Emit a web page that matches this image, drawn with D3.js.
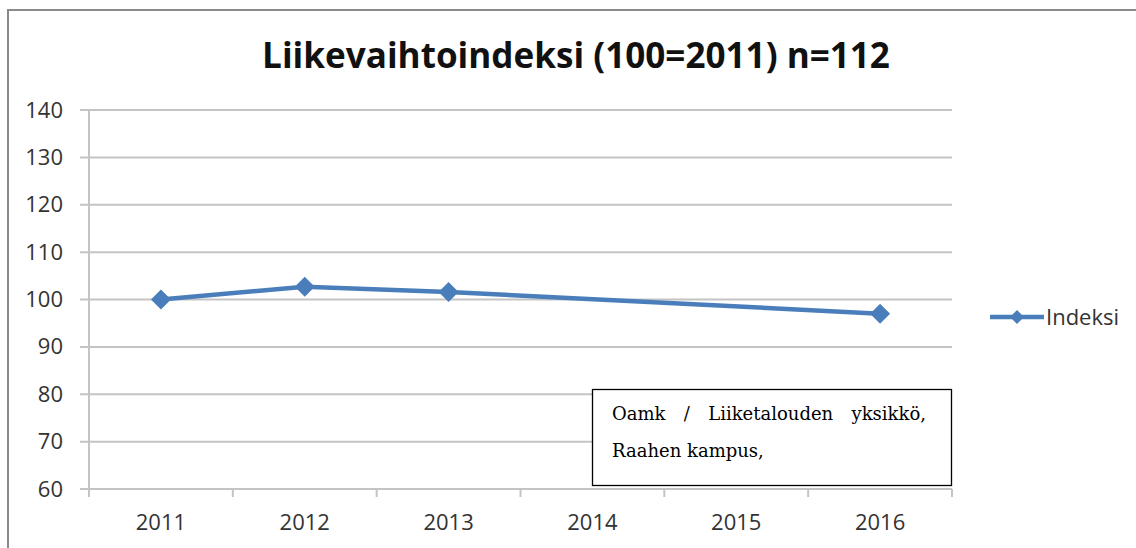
<!DOCTYPE html>
<html>
<head>
<meta charset="utf-8">
<script src="https://cdn.jsdelivr.net/npm/d3@7"></script>
<style>
  body { margin: 0; background: #fff; }
  svg { display: block; }
</style>
</head>
<body>
<div id="canvas"></div>
<script>
// chart data
var years = ['2011', '2012', '2013', '2014', '2015', '2016'];
var indeksi = [100, 102.7, 101.6, null, null, 97];
var yTicks = [60, 70, 80, 90, 100, 110, 120, 130, 140];
var title = 'Liikevaihtoindeksi (100=2011) n=112';
var seriesName = 'Indeksi';
var noteLines = ['Oamk / Liiketalouden yksikkö,', 'Raahen kampus,'];

var W = 1136, H = 548;
var m = {t: 110, l: 89, r: 184, b: 59};
var blue = '#4a7ebb';
var labelFont = '"Open Sans", sans-serif';

var svg = d3.select('#canvas').append('svg')
    .attr('width', W)
    .attr('height', H);

// outer chart frame (only top + left visible in the crop)
svg.append('path')
    .attr('d', 'M8,' + H + 'V10H' + W)
    .attr('fill', 'none')
    .attr('stroke', '#8a8a8a')
    .attr('stroke-width', 2);

// title, fitted to the width seen in the picture
var t = svg.append('text')
    .attr('x', 576)
    .attr('y', 68)
    .attr('text-anchor', 'middle')
    .style('font-family', labelFont)
    .style('font-weight', 'bold')
    .style('font-size', '30px')
    .attr('fill', '#111')
    .text(title);
var tw = t.node().getComputedTextLength();
t.style('font-size', (30 * 628 / tw) + 'px');

var x = d3.scaleBand()
    .domain(years)
    .range([m.l, W - m.r]);

var y = d3.scaleLinear()
    .domain([60, 140])
    .range([H - m.b, m.t]);

// gridlines
svg.append('g')
    .selectAll('line')
    .data(yTicks)
    .enter()
    .append('line')
    .attr('x1', m.l - 9)
    .attr('x2', W - m.r)
    .attr('y1', function(d){ return y(d); })
    .attr('y2', function(d){ return y(d); })
    .attr('stroke', '#c4c4c4')
    .attr('stroke-width', 2);

// y axis
var axisY = d3.axisLeft(y)
    .tickValues(yTicks)
    .tickSize(0)
    .tickPadding(26);
var gy = svg.append('g')
    .attr('transform', 'translate(' + m.l + ',0)')
    .call(axisY);
gy.select('.domain').remove();
gy.selectAll('text')
    .style('font-family', labelFont)
    .style('font-size', '22px')
    .attr('fill', '#333');
svg.append('line')
    .attr('x1', m.l).attr('x2', m.l)
    .attr('y1', y(140)).attr('y2', y(60) + 8)
    .attr('stroke', '#c4c4c4')
    .attr('stroke-width', 2);

// x axis: ticks sit between categories
var gx = svg.append('g')
    .attr('transform', 'translate(0,' + y(60) + ')');
gx.selectAll('line')
    .data(years.concat(['end']))
    .enter()
    .append('line')
    .attr('x1', function(d, i){ return m.l + i * x.step(); })
    .attr('x2', function(d, i){ return m.l + i * x.step(); })
    .attr('y1', 0)
    .attr('y2', 8)
    .attr('stroke', '#c4c4c4')
    .attr('stroke-width', 2);
gx.selectAll('text')
    .data(years)
    .enter()
    .append('text')
    .attr('x', function(d){ return x(d) + x.bandwidth() / 2; })
    .attr('y', 41)
    .attr('text-anchor', 'middle')
    .style('font-family', labelFont)
    .style('font-size', '22px')
    .attr('fill', '#333')
    .text(function(d){ return d; });

// the series (missing years are bridged, as in the original)
var pts = years.map(function(d, i){ return {year: d, value: indeksi[i]}; })
    .filter(function(d){ return d.value != null; });

var line = d3.line()
    .x(function(d){ return x(d.year) + x.bandwidth() / 2; })
    .y(function(d){ return y(d.value); });

svg.append('path')
    .datum(pts)
    .attr('d', line)
    .attr('fill', 'none')
    .attr('stroke', blue)
    .attr('stroke-width', 4.5)
    .attr('stroke-linejoin', 'round');

function diamond(r){ return 'M0,' + (-r) + 'L' + r + ',0L0,' + r + 'L' + (-r) + ',0Z'; }

svg.append('g')
    .selectAll('path')
    .data(pts)
    .enter()
    .append('path')
    .attr('transform', function(d){
        return 'translate(' + (x(d.year) + x.bandwidth() / 2) + ',' + y(d.value) + ')';
    })
    .attr('d', diamond(10))
    .attr('fill', blue);

// legend
var lg = svg.append('g').attr('transform', 'translate(990,317)');
lg.append('line')
    .attr('x1', 0).attr('x2', 54)
    .attr('stroke', blue)
    .attr('stroke-width', 4.5);
lg.append('path')
    .attr('transform', 'translate(27,0)')
    .attr('d', diamond(7))
    .attr('fill', blue);
lg.append('text')
    .attr('x', 56)
    .attr('y', 8)
    .style('font-family', labelFont)
    .style('font-size', '22px')
    .attr('fill', '#333')
    .text(seriesName);

// note box
var box = svg.append('g');
box.append('rect')
    .attr('x', 592.5)
    .attr('y', 389.5)
    .attr('width', 359)
    .attr('height', 96)
    .attr('fill', '#fff')
    .attr('stroke', '#000')
    .attr('stroke-width', 1.3);

var noteFont = {family: '"DejaVu Serif", serif', size: 18};
// first line is justified between the box paddings
var words = noteLines[0].split(' ');
var left = 612, right = 926;
var ws = words.map(function(w){
    var n = box.append('text')
        .style('font-family', noteFont.family)
        .style('font-size', noteFont.size + 'px')
        .attr('fill', '#000')
        .attr('y', 420)
        .text(w);
    return {node: n, w: n.node().getComputedTextLength()};
});
var total = d3.sum(ws, function(d){ return d.w; });
var gap = (right - left - total) / (ws.length - 1);
var cx = left;
ws.forEach(function(d){
    d.node.attr('x', cx);
    cx += d.w + gap;
});
box.append('text')
    .attr('x', left)
    .attr('y', 457)
    .style('font-family', noteFont.family)
    .style('font-size', noteFont.size + 'px')
    .attr('fill', '#000')
    .text(noteLines[1]);
</script>
</body>
</html>
